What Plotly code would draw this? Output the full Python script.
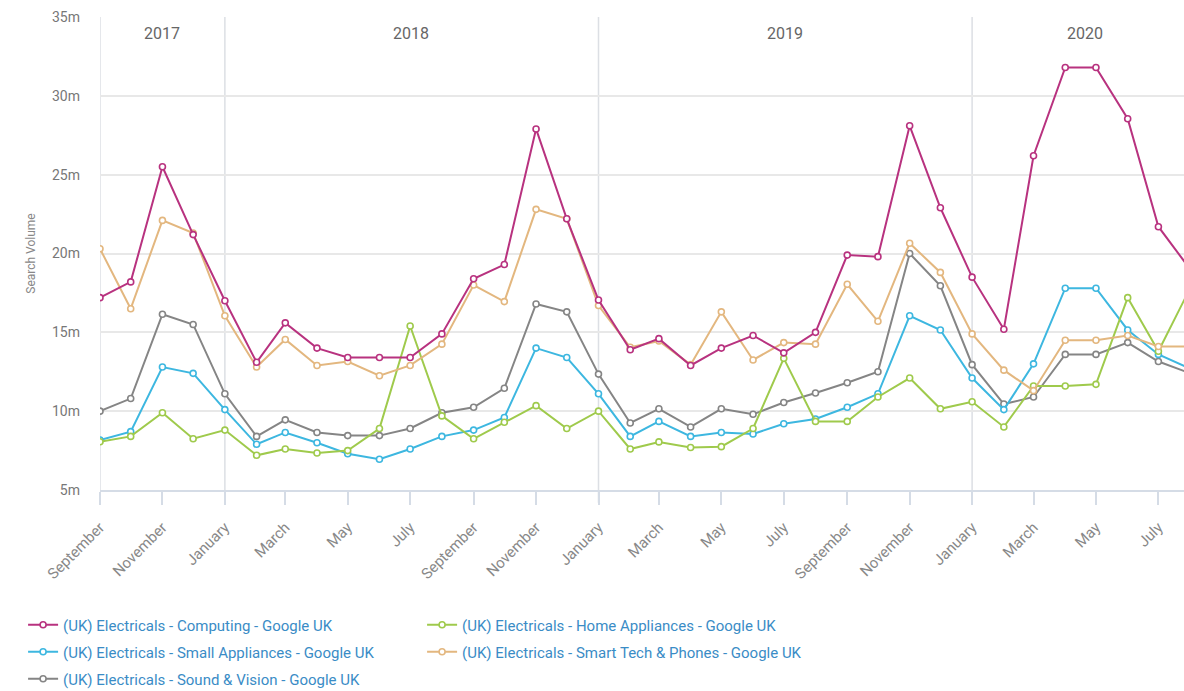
import plotly.graph_objects as go
import pandas as pd

months = pd.date_range("2017-09-01", "2020-08-01", freq="MS").strftime("%Y-%m-%d").tolist()

computing = [17.2, 18.2, 25.5, 21.2, 17.0, 13.1, 15.6, 14.0, 13.4, 13.4, 13.4, 14.9,
             18.4, 19.3, 27.9, 22.2, 17.05, 13.9, 14.6, 12.9, 14.0, 14.8, 13.7, 15.0,
             19.9, 19.8, 28.1, 22.9, 18.5, 15.2, 26.2, 31.8, 31.8, 28.55, 21.7, 19.0]
home_appliances = [8.06, 8.4, 9.9, 8.25, 8.8, 7.2, 7.6, 7.35, 7.5, 8.9, 15.4, 9.7,
                   8.25, 9.3, 10.35, 8.9, 10.0, 7.6, 8.05, 7.7, 7.75, 8.9, 13.35, 9.35,
                   9.35, 10.9, 12.1, 10.15, 10.6, 9.0, 11.6, 11.6, 11.7, 17.2, 13.8, 17.8]
small_appliances = [8.17, 8.7, 12.8, 12.4, 10.1, 7.9, 8.65, 8.0, 7.3, 6.95, 7.6, 8.4,
                    8.8, 9.6, 14.0, 13.4, 11.1, 8.4, 9.35, 8.4, 8.65, 8.55, 9.2, 9.5,
                    10.25, 11.1, 16.05, 15.15, 12.1, 10.1, 13.0, 17.8, 17.8, 15.15, 13.6, 12.7]
smart_tech = [20.3, 16.5, 22.1, 21.3, 16.05, 12.8, 14.55, 12.9, 13.15, 12.25, 12.9, 14.25,
              18.0, 16.95, 22.8, 22.2, 16.7, 14.05, 14.45, 12.95, 16.3, 13.25, 14.35, 14.25,
              18.05, 15.7, 20.65, 18.8, 14.9, 12.6, 11.3, 14.5, 14.5, 14.8, 14.1, 14.1]
sound_vision = [10.0, 10.8, 16.15, 15.5, 11.1, 8.4, 9.45, 8.65, 8.45, 8.45, 8.9, 9.9,
                10.25, 11.45, 16.8, 16.3, 12.35, 9.25, 10.15, 9.0, 10.15, 9.8, 10.55, 11.15,
                11.8, 12.5, 20.0, 17.95, 12.95, 10.45, 10.9, 13.6, 13.6, 14.35, 13.15, 12.4]

series_names = [
    "(UK) Electricals - Computing - Google UK",
    "(UK) Electricals - Home Appliances - Google UK",
    "(UK) Electricals - Small Appliances - Google UK",
    "(UK) Electricals - Smart Tech & Phones - Google UK",
    "(UK) Electricals - Sound & Vision - Google UK",
]
series_values = [computing, home_appliances, small_appliances, smart_tech, sound_vision]
series_colors = ["#b8327f", "#9fca4c", "#3db7e0", "#e3b77f", "#858585"]
legend_rows = ["legend", "legend", "legend2", "legend2", "legend3"]

year_labels = ["2017", "2018", "2019", "2020"]
year_starts = ["2017-09-01", "2018-01-01", "2019-01-01", "2020-01-01"]
year_ends = ["2018-01-01", "2019-01-01", "2020-01-01", "2020-08-08"]

fig = go.Figure()
draw_order = [4, 2, 1, 3, 0]
for i in draw_order:
    fig.add_trace(go.Scatter(
        x=months, y=series_values[i], name=series_names[i], mode="lines+markers",
        line=dict(color=series_colors[i], width=2),
        marker=dict(symbol="circle", size=6, color="white",
                    line=dict(color=series_colors[i], width=1.6)),
        legend=legend_rows[i], legendrank=i + 1,
    ))

shapes = []
for d in year_starts:
    shapes.append(dict(type="line", xref="x", yref="paper", x0=d, x1=d, y0=-0.027, y1=1,
                       line=dict(color="#dcdfe4", width=1.5), layer="below"))
fig.update_layout(shapes=shapes)

for lab, s, e in zip(year_labels, year_starts, year_ends):
    mid = pd.Timestamp(s) + (pd.Timestamp(e) - pd.Timestamp(s)) / 2
    fig.add_annotation(x=mid.strftime("%Y-%m-%d"), y=0.966, xref="x", yref="paper",
                       yanchor="middle", xanchor="center",
                       text=lab, showarrow=False,
                       font=dict(family="Roboto", size=16, color="#666666"))

legend_common = dict(
    orientation="h", xref="container", yref="container",
    x=0.0195, xanchor="left", yanchor="top",
    entrywidth=354, entrywidthmode="pixels",
    font=dict(family="Roboto", size=15, color="#3a8cc6"),
    itemwidth=30, bgcolor="rgba(0,0,0,0)",
)

fig.update_layout(
    width=1184, height=691,
    margin=dict(l=100, r=0, t=17, b=201),
    paper_bgcolor="white", plot_bgcolor="white",
    font=dict(family="Roboto", color="#777777"),
    xaxis=dict(
        type="date", range=["2017-09-01", "2020-07-26"], automargin=False,
        tick0="2017-09-01", dtick="M2", tickformat="%B",
        tickangle=-45, showgrid=False, zeroline=False,
        showline=True, linecolor="#d5dce6", linewidth=1.5,
        ticks="outside", ticklen=13, tickcolor="#d5dce6", tickwidth=1.5,
        ticklabelstandoff=8,
        tickfont=dict(family="Roboto", size=15, color="#888888"),
    ),
    yaxis=dict(
        range=[5, 35], dtick=5, ticksuffix="m", automargin=False,
        showgrid=True, gridcolor="#e8e8e8", gridwidth=1.5, zeroline=False,
        showline=False, ticklabelstandoff=19,
        tickfont=dict(family="Roboto", size=14, color="#777777"),
        title=dict(text="Search Volume", font=dict(family="Roboto", size=12, color="#888888"),
                   standoff=13),
    ),
    legend=dict(legend_common, y=0.1194),
    legend2=dict(legend_common, y=0.0804),
    legend3=dict(legend_common, y=0.0413),
    showlegend=True,
)

fig.write_html(
    "out.html",
    config={"displayModeBar": False},
    post_script="document.body.style.margin='0';document.body.style.overflow='hidden';",
)
